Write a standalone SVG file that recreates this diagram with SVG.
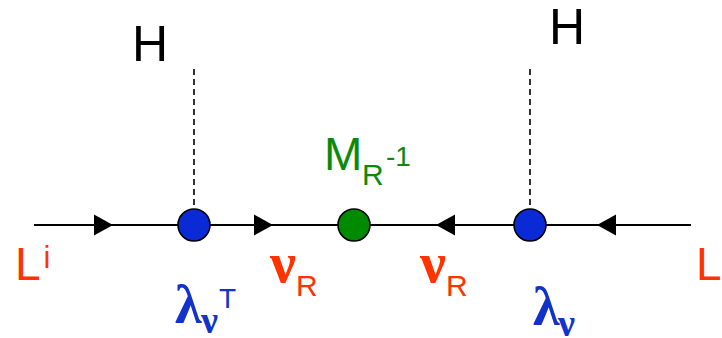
<svg xmlns="http://www.w3.org/2000/svg" width="722" height="338" viewBox="0 0 722 338">
<style>
.sans{font-family:"Liberation Sans",Arial,sans-serif;font-weight:normal}
.greek{font-family:"Liberation Serif","Times New Roman",serif;font-weight:bold}
.red{fill:#ff3300}
.blue{fill:#1133cc}
.green{fill:#0a8a0a}
.blk{fill:#000}
.line{stroke:#000;stroke-width:2;fill:none}
.dash{stroke:#000;stroke-width:1.6;stroke-dasharray:6 4;fill:none}
.node{stroke:#000;stroke-width:1.6}
</style>
<defs>
<path id="arr" d="M0,0 L-19,-10.5 L-19,10.5 Z" fill="#000"/>
</defs>
<g id="connectors">
<line class="line" x1="34" y1="225" x2="691" y2="225"/>
<line class="dash" x1="194" y1="69" x2="194" y2="209"/>
<line class="dash" x1="530" y1="69" x2="530" y2="209"/>
<use href="#arr" transform="translate(113,225)"/>
<use href="#arr" transform="translate(273,225)"/>
<use href="#arr" transform="translate(436,225) rotate(180)"/>
<use href="#arr" transform="translate(597,225) rotate(180)"/>
</g>
<g id="node-Li">
<text class="sans red" x="15" y="280" font-size="46">L<tspan font-size="31" dx="3" dy="-12">i</tspan></text>
</g>
<g id="node-Lj">
<text class="sans red" x="696" y="280" font-size="46">L<tspan font-size="31" dx="3" dy="-12">j</tspan></text>
</g>
<g id="node-H1">
<text class="sans blk" x="150" y="61" font-size="50" text-anchor="middle">H</text>
</g>
<g id="node-H2">
<text class="sans blk" x="567" y="44" font-size="50" text-anchor="middle">H</text>
</g>
<g id="node-lambdaT">
<circle class="node" cx="194" cy="225" r="16" fill="#0a2ad6"/>
<text class="greek blue" x="175" y="323" font-size="54">λ</text>
<text class="greek blue" x="201" y="333" font-size="38">ν</text>
<text class="sans blue" x="219" y="308" font-size="28">T</text>
</g>
<g id="node-MR">
<circle class="node" cx="354" cy="225" r="16" fill="#008a00"/>
<text class="sans green" x="324" y="170" font-size="46">M</text>
<text class="sans green" x="362" y="185" font-size="30">R</text>
<text class="sans green" x="386" y="166" font-size="28">-1</text>
</g>
<g id="node-nuR1">
<text class="greek red" x="270" y="282" font-size="58">ν</text>
<text class="sans red" x="296" y="296" font-size="30">R</text>
</g>
<g id="node-nuR2">
<text class="greek red" x="420" y="282" font-size="58">ν</text>
<text class="sans red" x="446" y="296" font-size="30">R</text>
</g>
<g id="node-lambda">
<circle class="node" cx="530" cy="225" r="16" fill="#0a2ad6"/>
<text class="greek blue" x="533" y="325" font-size="54">λ</text>
<text class="greek blue" x="558" y="336" font-size="38">ν</text>
</g>
</svg>
